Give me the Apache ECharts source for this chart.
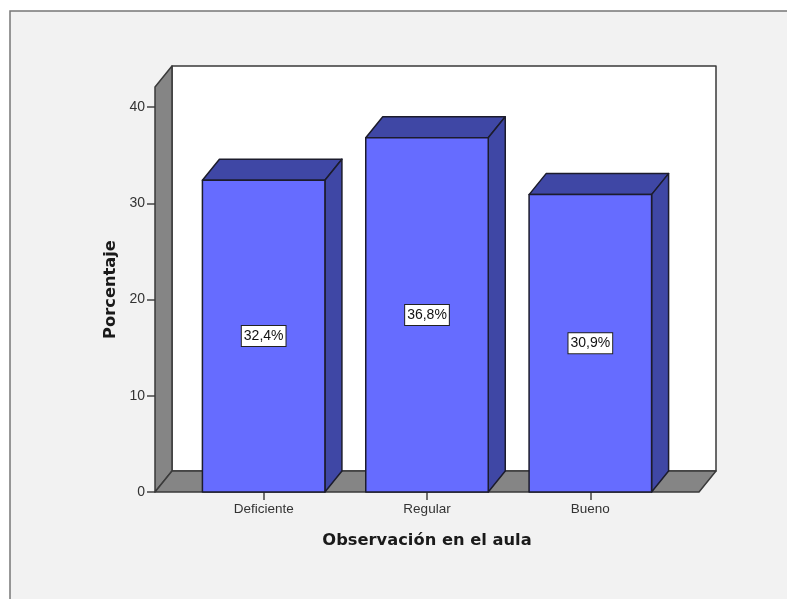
<!DOCTYPE html>
<html><head><meta charset="utf-8">
<style>html,body{margin:0;padding:0;background:#fff}#c{width:787px;height:599px}</style>
<script src="https://cdn.jsdelivr.net/npm/echarts@6/dist/echarts.min.js"></script>
</head><body><div id="c"></div>
<script>
const categories = ['Deficiente', 'Regular', 'Bueno'];
const values = [32.4, 36.8, 30.9];
const yTicks = [0, 10, 20, 30, 40];
const xTitle = 'Observación en el aula';
const yTitle = 'Porcentaje';
const yMax = 42.08;

const DX = 17, DY = -21, WALL_PAD = 27, BAR_RATIO = 0.75;
const EDGE = '#1c1c2c', WALL_EDGE = '#3a3a3a', FRONT = '#666cff', SHADE = '#3f47a5', GREY = '#858585';
const fmt = v => v.toFixed(1).replace('.', ',') + '%';
const poly = (points, fill, z2, stroke) => ({
  type: 'polygon', z2,
  shape: { points },
  style: { fill, stroke: stroke || EDGE, lineWidth: 1.5, lineJoin: 'round' }
});

const chart = echarts.init(document.getElementById('c'), null, { renderer: 'canvas' });
chart.setOption({
  animation: false,
  backgroundColor: '#ffffff',
  textStyle: { fontFamily: '"Liberation Sans", Arial, sans-serif' },
  graphic: [{
    type: 'rect', z: -10, silent: true,
    shape: { x: 10, y: 11, width: 800, height: 620 },
    style: { fill: '#f2f2f2', stroke: '#777777', lineWidth: 1.5 }
  }],
  grid: { left: 182, right: 115, top: 87, bottom: 107, containLabel: false },
  xAxis: {
    type: 'category', data: categories,
    axisLine: { show: false },
    axisTick: { show: true, alignWithLabel: true, length: 8, lineStyle: { color: '#444', width: 1.5 } },
    axisLabel: { color: '#333', fontSize: 13.5, margin: 10 },
    name: xTitle, nameLocation: 'middle', nameGap: 41,
    nameTextStyle: { color: '#1a1a1a', fontSize: 16.3, fontWeight: 'bold', fontFamily: '"DejaVu Sans", sans-serif' }
  },
  yAxis: {
    type: 'value', min: 0, max: yMax, offset: WALL_PAD,
    splitLine: { show: false },
    axisLine: { show: false },
    axisTick: { show: true, length: 8, customValues: yTicks, lineStyle: { color: '#444', width: 1.5 } },
    axisLabel: { color: '#333', fontSize: 14, margin: 10, customValues: yTicks },
    name: yTitle, nameLocation: 'middle', nameGap: 36,
    nameTextStyle: { color: '#1a1a1a', fontSize: 16.3, fontWeight: 'bold', fontFamily: '"DejaVu Sans", sans-serif' }
  },
  series: [{
    type: 'custom', silent: true, clip: false, z: 1,
    data: [[0, 0]],
    renderItem(params, api) {
      const band = api.size([1, 0])[0];
      const l = api.coord([0, 0])[0] - band / 2 - WALL_PAD;
      const r = api.coord([categories.length - 1, 0])[0] + band / 2 + WALL_PAD;
      const b = api.coord([0, 0])[1];
      const t = api.coord([0, yMax])[1];
      return {
        type: 'group',
        children: [
          poly([[l + DX, t + DY], [r + DX, t + DY], [r + DX, b + DY], [l + DX, b + DY]], '#ffffff', 1, WALL_EDGE),
          poly([[l, t], [l + DX, t + DY], [l + DX, b + DY], [l, b]], GREY, 2, WALL_EDGE),
          poly([[l, b], [l + DX, b + DY], [r + DX, b + DY], [r, b]], GREY, 2, WALL_EDGE)
        ]
      };
    }
  }, {
    type: 'custom', silent: true, clip: false, z: 2,
    data: values.map((v, i) => [i, v]),
    renderItem(params, api) {
      const i = api.value(0), v = api.value(1);
      const band = api.size([1, 0])[0];
      const w = band * BAR_RATIO;
      const c = api.coord([i, 0])[0];
      const b = api.coord([i, 0])[1];
      const t = api.coord([i, v])[1];
      const m = api.coord([i, v / 2])[1];
      const x0 = c - w / 2, x1 = c + w / 2;
      return {
        type: 'group',
        children: [
          poly([[x0, t], [x0 + DX, t + DY], [x1 + DX, t + DY], [x1, t]], SHADE, 3),
          poly([[x1, t], [x1 + DX, t + DY], [x1 + DX, b + DY], [x1, b]], SHADE, 3),
          poly([[x0, t], [x1, t], [x1, b], [x0, b]], FRONT, 4),
          {
            type: 'text', z2: 5,
            style: {
              text: fmt(v), x: c, y: m, align: 'center', verticalAlign: 'middle',
              fill: '#111', fontSize: 14, fontFamily: '"Liberation Sans", Arial, sans-serif',
              backgroundColor: '#ffffff', borderColor: '#222', borderWidth: 1, padding: [3, 2, 3, 2]
            }
          }
        ]
      };
    }
  }]
});
</script></body></html>
